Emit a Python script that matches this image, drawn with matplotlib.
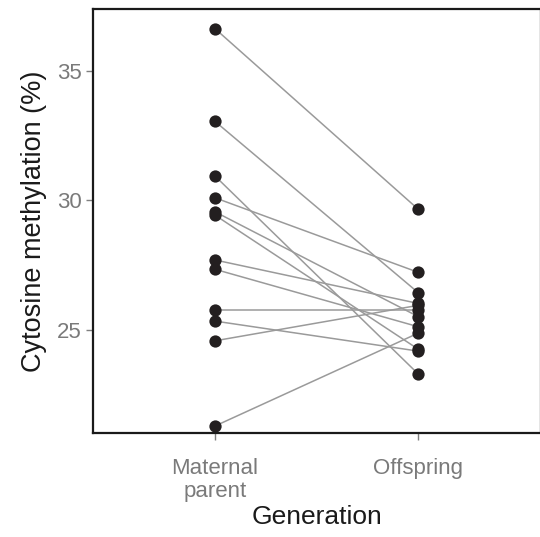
import matplotlib
matplotlib.use("Agg")
import matplotlib.pyplot as plt
import numpy as np

plt.rcParams['font.family'] = ['Liberation Sans', 'DejaVu Sans']

generations = ["Maternal\nparent", "Offspring"]
maternal = [36.63, 33.05, 30.94, 30.10, 29.56, 29.43, 27.70, 27.34, 25.76, 25.34, 24.58, 21.29]
offspring = [29.65, 26.43, 23.29, 27.22, 25.51, 24.25, 26.02, 25.12, 25.76, 24.18, 25.95, 24.88]

fig = plt.figure(figsize=(5.40, 5.37), dpi=100)
ax = fig.add_axes([93 / 540, 1 - 433 / 537, 447.5 / 540, 424 / 537])

xpos = np.arange(1, len(generations) + 1)
for m, o in zip(maternal, offspring):
    ax.plot(xpos, [m, o], color='#9a9a9a', lw=1.1, zorder=1)
ax.scatter(np.full(len(maternal), xpos[0]), maternal, s=78, color='#231f20', zorder=2, linewidths=0)
ax.scatter(np.full(len(offspring), xpos[1]), offspring, s=78, color='#231f20', zorder=2, linewidths=0)

ax.set_xlim(0.4, 2.6)
ax.set_ylim(21.02, 37.39)
ax.set_xticks(xpos)
ax.set_xticklabels(generations)
ax.set_yticks([25, 30, 35])

for s in ax.spines.values():
    s.set_color('#1a1a1a')
    s.set_linewidth(1.6)

ax.tick_params(axis='both', colors='#7f7f7f', labelsize=16, length=5, width=1, pad=3)
ax.tick_params(axis='x', pad=13)
for lab in ax.get_xticklabels() + ax.get_yticklabels():
    lab.set_color('#7a7a7a')
for lab in ax.get_xticklabels():
    lab.set_linespacing(1.15)

ax.set_xlabel("Generation", fontsize=19, color='#1a1a1a', labelpad=2)
ax.set_ylabel("Cytosine methylation (%)", fontsize=19.5, color='#1a1a1a', labelpad=7)

fig.savefig("out.png", dpi=100)
